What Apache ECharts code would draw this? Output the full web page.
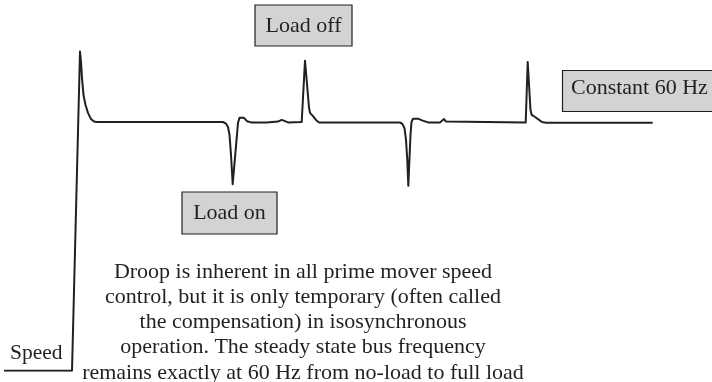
<!DOCTYPE html>
<html>
<head>
<meta charset="utf-8">
<script src="https://cdn.jsdelivr.net/npm/echarts@6/dist/echarts.min.js"></script>
<style>
  html, body { margin: 0; padding: 0; background: #fff; }
  #chart { width: 712px; height: 382px; }
</style>
</head>
<body>
<div id="chart"></div>
<script>
// speed trace: time (arbitrary units) vs speed (Hz)
var timeS = [
    0, 6.8, 7.6, 7.7, 7.8, 7.95, 8.15, 8.4, 8.7, 9.0, 9.3,
    21.9, 22.2, 22.4, 22.55, 22.7, 22.87, 23.4, 23.55, 23.75, 24.0, 24.3, 24.7,
    26.27, 27.4, 27.77, 28.1, 28.4, 29.77,
    30.1, 30.5, 30.6, 30.9, 31.2, 31.5,
    39.6, 39.85, 40.05, 40.2, 40.33, 40.43, 40.65, 40.75, 40.9, 41.1, 41.4, 41.8, 42.4,
    43.6, 43.8, 44.0, 44.2, 44.4,
    52.17, 52.37, 52.65, 52.77, 53.1, 53.4, 53.8, 54.2, 64.87
];
var speedHz = [
    0, 0, 77.0, 74.5, 70.6, 66.5, 64.1, 62.2, 60.7, 60.1, 60,
    60, 59.6, 58.8, 56.9, 52.1, 45.0, 59.8, 61.0, 61.3, 61.0, 60.2, 59.9,
    59.9, 60.1, 60.5, 60.2, 59.9, 60.0,
    74.8, 63.5, 62.2, 61.4, 60.5, 59.9,
    59.9, 59.5, 58.5, 55.7, 50.8, 44.6, 56.9, 60.0, 60.8, 61.1, 60.8, 60.4, 59.9,
    59.9, 60.1, 60.7, 60.1, 59.9,
    59.9, 74.5, 62.9, 61.7, 61.2, 60.7, 60.0, 59.8, 59.8
];

var loadOffText = 'Load off';
var loadOnText = 'Load on';
var constantText = 'Constant 60 Hz';
var axisText = 'Speed';
var noteLines = [
    'Droop is inherent in all prime mover speed',
    'control, but it is only temporary (often called',
    'the compensation) in isosynchronous',
    'operation. The steady state bus frequency',
    'remains exactly at 60 Hz from no-load to full load'
];

var INK = '#231f20';
var BOX = '#d1d3d4';
var SERIF = '"Liberation Serif", "DejaVu Serif", serif';

var traceData = [];
for (var i = 0; i < timeS.length; i++) {
    traceData.push([timeS[i], speedHz[i]]);
}

var boxRect = function(x, y, w, h) {
    return {
        type: 'rect',
        shape: { x: x, y: y, width: w, height: h },
        style: { fill: BOX, stroke: INK, lineWidth: 1.2 },
        z: 10
    };
};

var label = function(text, x, y, align, size) {
    return {
        type: 'text',
        x: x,
        y: y,
        style: {
            text: text,
            fontSize: size || 22,
            fontFamily: SERIF,
            fill: INK,
            align: align || 'center',
            verticalAlign: 'middle'
        },
        z: 11
    };
};

var chart = echarts.init(document.getElementById('chart'));

var option = {
    animation: false,
    grid: { left: 4, right: 0, top: 39.1, bottom: 11.3 },
    xAxis: { type: 'value', min: 0, max: 70.8, show: false },
    yAxis: { type: 'value', min: 0, max: 80, show: false },
    series: [{
        type: 'line',
        data: traceData,
        symbol: 'none',
        smooth: false,
        lineStyle: { color: INK, width: 2, join: 'round' }
    }],
    graphic: [
        boxRect(255, 5, 97, 41),
        label(loadOffText, 303.5, 26),
        boxRect(182, 192, 95, 42),
        label(loadOnText, 229.5, 213.5),
        boxRect(562.5, 70.5, 160, 41),
        label(constantText, 571, 88.5, 'left'),
        label(axisText, 10, 353.5, 'left', 21.5),
        {
            type: 'text',
            x: 303,
            y: 259.5,
            style: {
                text: noteLines.join('\n'),
                fontSize: 22,
                fontFamily: SERIF,
                fill: INK,
                align: 'center',
                verticalAlign: 'top',
                lineHeight: 25.2
            },
            z: 11
        }
    ]
};

chart.setOption(option);
</script>
</body>
</html>
